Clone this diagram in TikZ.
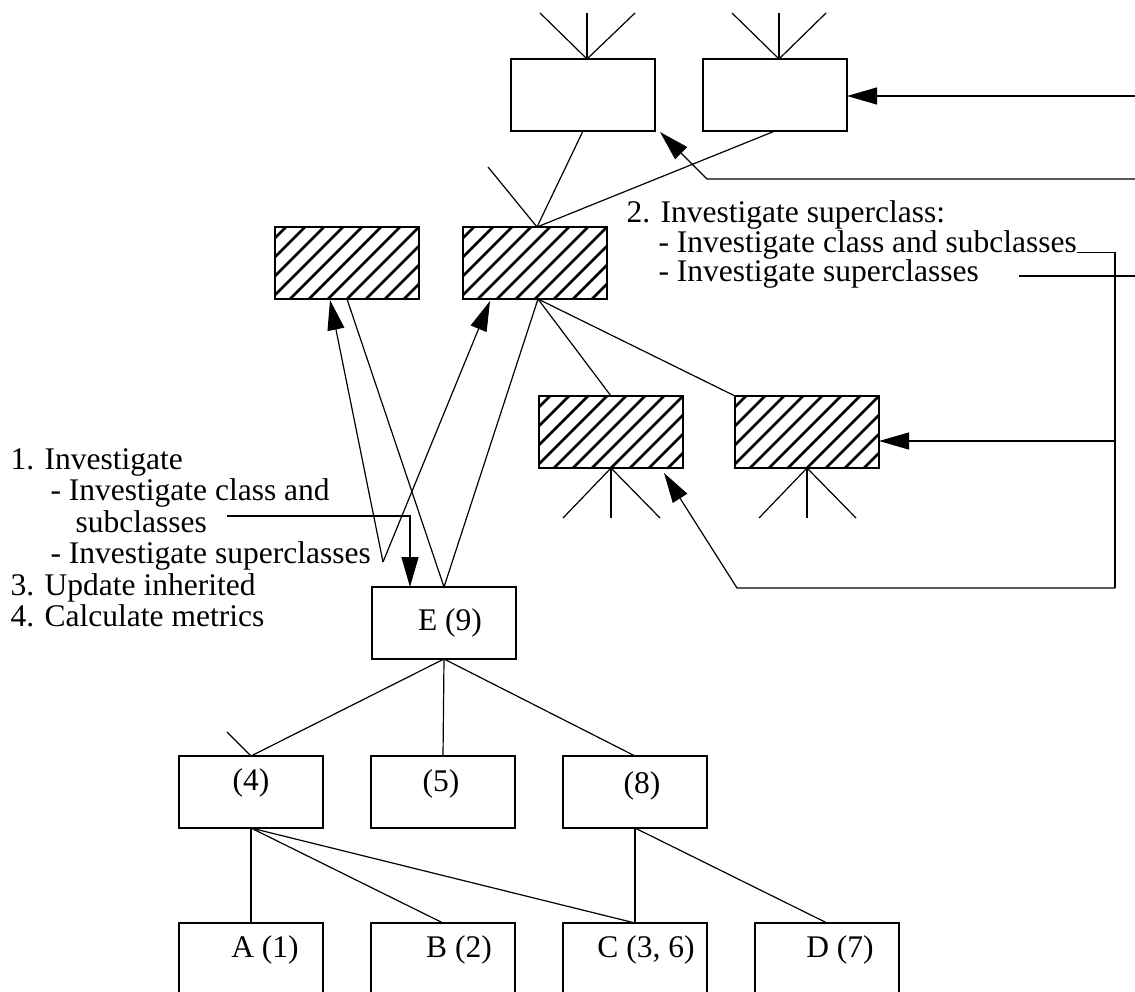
\documentclass[tikz,border=0pt]{standalone}
\usepackage{fontspec}
\setmainfont{Liberation Serif}
\usetikzlibrary{arrows.meta}
\newcommand\dfont{\fontsize{31.5}{31.5}\selectfont}
\begin{document}
\begin{tikzpicture}[x=1pt,y=-1pt,line width=1.2pt,
  cls/.style={draw,line width=1.2pt,minimum width=144pt,minimum height=72pt,inner sep=0pt,outer sep=0pt},
  txt/.style={font=\dfont,inner sep=0pt,anchor=base west},
  lbl/.style={font=\dfont,inner sep=0pt,anchor=base},
  arr/.style={-{Triangle[length=30pt,width=17pt]}},
  hatchline/.style={line width=2.8pt}]
\useasboundingbox (0,0) rectangle (1135,992);
\clip (0,0) rectangle (1135,992);

% class boxes
\node[cls] (t1) at (583,95) {};
\node[cls] (t2) at (775,95) {};
\node[cls] (h1) at (347,263) {};
\node[cls] (h2) at (535,263) {};
\node[cls] (h3) at (611,432) {};
\node[cls] (h4) at (807,432) {};
\node[cls] (e)  at (444,623) {};
\node[cls] (n4) at (251,792) {};
\node[cls] (n5) at (443,792) {};
\node[cls] (n8) at (635,792) {};
\node[cls] (a)  at (251,959) {};
\node[cls] (b)  at (443,959) {};
\node[cls] (c)  at (635,959) {};
\node[cls] (d)  at (827,959) {};

% hatching of the superclass boxes
\foreach \n in {h1,h2,h3,h4}{
  \begin{scope}
    \clip (\n.north west) rectangle (\n.south east);
    \foreach \k in {0,...,12}
      \draw[hatchline] ([xshift=\k*19pt-80pt]\n.south west) -- ++(90,-90);
  \end{scope}
  \draw (\n.north west) rectangle (\n.south east);
}

% box labels
\node[lbl] (le) at (450,630) {E (9)};
\node[lbl] (l4) at (251,790) {(4)};
\node[lbl] (l5) at (441,791) {(5)};
\node[lbl] (l8) at (642,793) {(8)};
\node[lbl] (la) at (265,957) {A (1)};
\node[lbl] (lb) at (459,957) {B (2)};
\node[lbl] (lc) at (646,957) {C (3, 6)};
\node[lbl] (ld) at (840,957) {D (7)};

% steps, left
\node[txt] (s1) at (10,469) {1. Investigate};
\node[txt] (s2) at (50,500.5) {- Investigate class and};
\node[txt] (s3) at (75,532) {subclasses};
\node[txt] (s4) at (50,563.5) {- Investigate superclasses};
\node[txt] (s5) at (10,595) {3. Update inherited};
\node[txt] (s6) at (10,626.5) {4. Calculate metrics};

% steps, right
\node[txt] (r1) at (626,223) {2. Investigate superclass:};
\node[txt] (r2) at (658,252.5) {- Investigate class and subclasses};
\node[txt] (r3) at (658,282) {- Investigate superclasses};

% free ends
\coordinate (u1a) at (540,13);  \coordinate (u1b) at (587,13);  \coordinate (u1c) at (635,13);
\coordinate (u2a) at (732,13);  \coordinate (u2b) at (779,13);  \coordinate (u2c) at (826,13);
\coordinate (u3)  at (488,167);
\coordinate (d3a) at (563,518); \coordinate (d3b) at (611,518); \coordinate (d3c) at (660,518);
\coordinate (d4a) at (759,518); \coordinate (d4b) at (807,518); \coordinate (d4c) at (856,518);
\coordinate (u4)  at (227,732);
\coordinate (in1) at (1140,96);
\coordinate (in2) at (1140,179);
\coordinate (bend2) at (707,179);
\coordinate (out3) at (1140,276);
\coordinate (r3e) at (1019,276);
\coordinate (bus1) at (1115,252.5);
\coordinate (bus2) at (1115,441);
\coordinate (bus3) at (1115,588);
\coordinate (bend3) at (737,588);
\coordinate (s3e) at (227,516);
\coordinate (k1) at (410,516);
\coordinate (s4e) at (383,562);

% hierarchy lines
\draw (u1a) -- ([xshift=4pt]t1.north) -- (u1c);
\draw (u1b) -- ([xshift=4pt]t1.north);
\draw (u2a) -- ([xshift=4pt]t2.north) -- (u2c);
\draw (u2b) -- ([xshift=4pt]t2.north);
\draw (t1.south) -- ([xshift=2pt]h2.north);
\draw (t2.south) -- ([xshift=2pt]h2.north);
\draw (u3) -- ([xshift=2pt]h2.north);
\draw (h1.south) -- (e.north);
\draw ([xshift=3pt]h2.south) -- (e.north);
\draw ([xshift=3pt]h2.south) -- (h3.north);
\draw ([xshift=3pt]h2.south) -- (h4.north west);
\draw (d3a) -- (h3.south) -- (d3c);
\draw (d3b) -- (h3.south);
\draw (d4a) -- (h4.south) -- (d4c);
\draw (d4b) -- (h4.south);
\draw (e.south) -- (n4.north);
\draw (e.south) -- (n5.north);
\draw (e.south) -- (n8.north);
\draw (u4) -- (n4.north);
\draw (n4.south) -- (a.north);
\draw (n4.south) -- (b.north);
\draw (n4.south) -- (c.north);
\draw (n8.south) -- (c.north);
\draw (n8.south) -- (d.north);

% investigation arrows
\draw[arr] (in1) -- (in1 -| t2.east);
\draw[arr] (in2) -- (bend2) -- ([xshift=5pt,yshift=-1pt]t1.south east);
\draw (r2.base east) -- (bus1) -- (bus3);
\draw (r3e) -- (out3);
\draw[arr] (bus2) -- (bus2 -| h4.east);
\draw[arr] (bus3) -- (bend3) -- ([xshift=-19pt,yshift=-5pt]h3.south east);
\draw[arr] (s3e) -- (k1) -- (k1 |- e.north);
\draw[arr] (s4e) -- ([xshift=-17pt,yshift=-1pt]h1.south);
\draw[arr] (s4e) -- ([xshift=-45pt,yshift=-2pt]h2.south);
\end{tikzpicture}
\end{document}
